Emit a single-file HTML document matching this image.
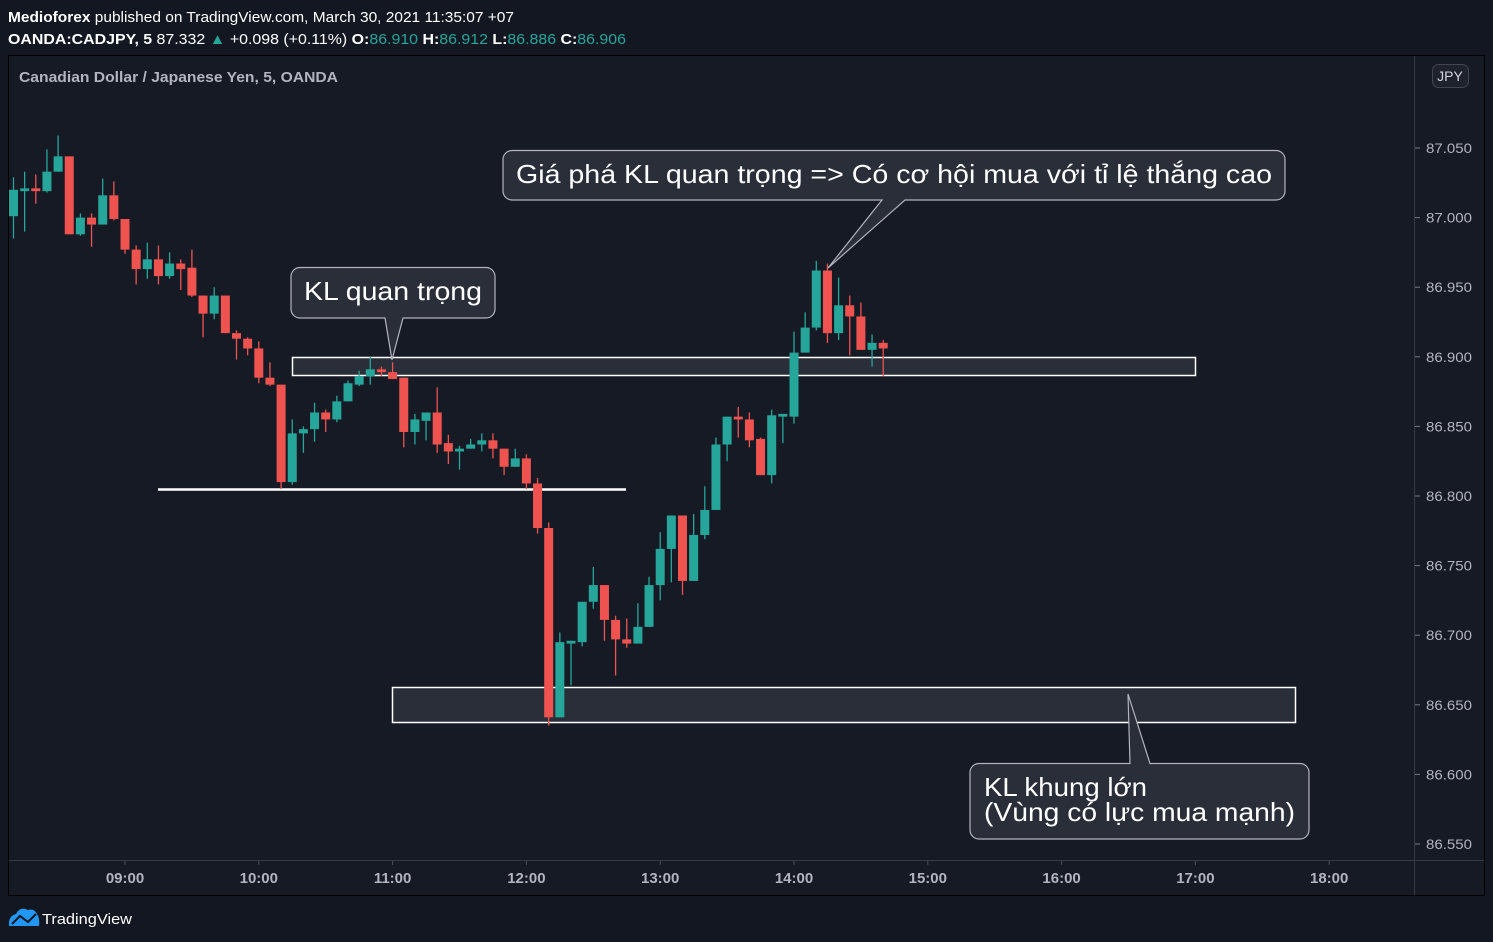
<!DOCTYPE html>
<html><head><meta charset="utf-8">
<style>
html,body{margin:0;padding:0;background:#131722;width:1493px;height:942px;overflow:hidden;font-family:"Liberation Sans",sans-serif;}
svg text{font-family:"Liberation Sans","DejaVu Sans",sans-serif;}
</style></head>
<body>
<svg id="chart" width="1493" height="942" viewBox="0 0 1493 942" xmlns="http://www.w3.org/2000/svg">
<rect x="0" y="0" width="1493" height="942" fill="#131722"/>
<text x="8" y="22" font-size="15" fill="#ffffff" textLength="506" lengthAdjust="spacingAndGlyphs"><tspan font-weight="bold">Medioforex</tspan> published on TradingView.com, March 30, 2021 11:35:07 +07</text>
<text x="8" y="44" font-size="15" fill="#ffffff" textLength="618" lengthAdjust="spacingAndGlyphs"><tspan font-weight="bold">OANDA:CADJPY, 5</tspan> 87.332 <tspan fill="#26a69a">▲</tspan> +0.098 (+0.11%) <tspan font-weight="bold">O:</tspan><tspan fill="#26a69a">86.910</tspan> <tspan font-weight="bold">H:</tspan><tspan fill="#26a69a">86.912</tspan> <tspan font-weight="bold">L:</tspan><tspan fill="#26a69a">86.886</tspan> <tspan font-weight="bold">C:</tspan><tspan fill="#26a69a">86.906</tspan></text>
<rect x="8.5" y="55.5" width="1476" height="840" fill="#161a25" stroke="#000"/>
<line x1="1414.5" y1="56" x2="1414.5" y2="895" stroke="#363a45"/>
<line x1="9" y1="860.5" x2="1484" y2="860.5" stroke="#363a45"/>
<text x="19" y="82" font-size="15" font-weight="bold" fill="#b2b5be" textLength="319" lengthAdjust="spacingAndGlyphs">Canadian Dollar / Japanese Yen, 5, OANDA</text>
<g id="yaxis"></g>
<g id="xaxis"></g>
<rect x="292.5" y="357.5" width="903" height="18" fill="#2a2e39" stroke="#fff" stroke-width="1.5"/>
<rect x="392.5" y="687.5" width="903" height="35" fill="#2a2e39" stroke="#fff" stroke-width="1.5"/>
<line x1="158" y1="489.5" x2="626" y2="489.5" stroke="#fff" stroke-width="2.5"/>
<g id="candles"></g>
<rect x="1432.5" y="64.5" width="36" height="23" rx="6" fill="#1e222d" stroke="#434651"/>
<text x="1450" y="81" font-size="14" fill="#d1d4dc" text-anchor="middle">JPY</text>
<g>
<path d="M300,267.5 H486 a9,9 0 0 1 9,9 V309 a9,9 0 0 1 -9,9 H403 L392,360 L385,318 H300 a9,9 0 0 1 -9,-9 V276.5 a9,9 0 0 1 9,-9 Z" fill="#2a2e39" stroke="#b2b5be" stroke-width="1.2"/>
<text x="304" y="300" font-size="26" fill="#fff" textLength="178" lengthAdjust="spacingAndGlyphs">KL quan trọng</text>
</g>
<g>
<path d="M512,150.5 H1276 a9,9 0 0 1 9,9 V191 a9,9 0 0 1 -9,9 H905 L828,268 L882,200 H512 a9,9 0 0 1 -9,-9 V159.5 a9,9 0 0 1 9,-9 Z" fill="#2a2e39" stroke="#b2b5be" stroke-width="1.2"/>
<text x="516" y="183" font-size="26" fill="#fff" textLength="756" lengthAdjust="spacingAndGlyphs">Giá phá KL quan trọng =&gt; Có cơ hội mua với tỉ lệ thắng cao</text>
</g>
<g>
<path d="M979,763.5 H1130 L1128,694 L1150,763.5 H1300 a9,9 0 0 1 9,9 V830 a9,9 0 0 1 -9,9 H979 a9,9 0 0 1 -9,-9 V772.5 a9,9 0 0 1 9,-9 Z" fill="#2a2e39" stroke="#b2b5be" stroke-width="1.2"/>
<text x="984" y="796" font-size="26" fill="#fff" textLength="163" lengthAdjust="spacingAndGlyphs">KL khung lớn</text>
<text x="984" y="821" font-size="26" fill="#fff" textLength="311" lengthAdjust="spacingAndGlyphs">(Vùng có lực mua mạnh)</text>
</g>
<g>
<path d="M9,926 Q8,916 16,914 Q20,906 28,910 Q34,908 37,914 Q40,918 39,926 Z" fill="#2196f3"/>
<polyline points="12,924 20,916 28,922 36,914" fill="none" stroke="#131722" stroke-width="2"/>
<text x="42" y="924" font-size="15" fill="#fff" textLength="90" lengthAdjust="spacingAndGlyphs">TradingView</text>
</g>
</svg>
<script>
const opens  =[87.001,87.019,87.021,87.019,87.033,87.044,86.988,87.000,86.995,87.016,86.999,86.977,86.963,86.970,86.958,86.967,86.964,86.944,86.931,86.944,86.917,86.913,86.906,86.885,86.880,86.810,86.845,86.848,86.860,86.855,86.868,86.880,86.886,86.891,86.889,86.885,86.846,86.854,86.860,86.838,86.832,86.834,86.837,86.840,86.834,86.821,86.827,86.809,86.777,86.641,86.694,86.695,86.724,86.736,86.711,86.697,86.694,86.706,86.736,86.762,86.786,86.739,86.772,86.790,86.837,86.857,86.855,86.841,86.815,86.857,86.857,86.903,86.921,86.962,86.917,86.937,86.929,86.905,86.910];
const highs  =[87.029,87.033,87.031,87.049,87.059,87.044,87.003,87.003,87.028,87.026,86.999,86.980,86.982,86.980,86.975,86.970,86.977,86.944,86.950,86.944,86.919,86.914,86.911,86.896,86.880,86.855,86.850,86.867,86.862,86.872,86.883,86.890,86.900,86.893,86.896,86.885,86.859,86.860,86.878,86.844,86.836,86.841,86.845,86.845,86.834,86.834,86.830,86.813,86.781,86.702,86.696,86.724,86.749,86.736,86.714,86.712,86.723,86.742,86.774,86.786,86.786,86.787,86.807,86.842,86.857,86.864,86.860,86.842,86.862,86.859,86.918,86.932,86.969,86.967,86.957,86.944,86.939,86.916,86.912];
const lows   =[86.985,86.990,87.010,87.018,87.033,86.988,86.987,86.979,86.995,86.998,86.974,86.952,86.956,86.952,86.956,86.948,86.943,86.914,86.927,86.917,86.898,86.901,86.881,86.879,86.805,86.808,86.831,86.839,86.846,86.853,86.868,86.879,86.880,86.886,86.884,86.835,86.837,86.840,86.831,86.823,86.819,86.834,86.832,86.827,86.815,86.821,86.805,86.773,86.635,86.641,86.664,86.692,86.719,86.696,86.671,86.691,86.694,86.706,86.725,86.738,86.729,86.739,86.769,86.790,86.825,86.842,86.835,86.815,86.809,86.838,86.852,86.903,86.919,86.910,86.912,86.901,86.905,86.893,86.886];
const closes =[87.020,87.021,87.019,87.033,87.044,86.988,87.000,86.995,87.016,86.999,86.977,86.963,86.970,86.958,86.967,86.963,86.944,86.931,86.944,86.917,86.913,86.906,86.885,86.880,86.810,86.845,86.848,86.860,86.855,86.868,86.881,86.886,86.891,86.889,86.884,86.846,86.855,86.860,86.837,86.832,86.834,86.837,86.840,86.834,86.821,86.827,86.809,86.777,86.641,86.695,86.696,86.724,86.736,86.711,86.697,86.694,86.706,86.736,86.762,86.786,86.739,86.772,86.790,86.837,86.857,86.855,86.840,86.815,86.858,86.859,86.903,86.921,86.962,86.917,86.937,86.929,86.905,86.910,86.906];
const priceTicks=[87.050,87.000,86.950,86.900,86.850,86.800,86.750,86.700,86.650,86.600,86.550];
const timeTicks=["09:00","10:00","11:00","12:00","13:00","14:00","15:00","16:00","17:00","18:00"];
const firstMinute=8*60+10;
const NS='http://www.w3.org/2000/svg';
function y(p){return 148+(87.05-p)*1392;}
function xMin(m){return 13.5+(m-firstMinute)/5*11.15;}
function xi(i){return xMin(firstMinute+i*5);}
function mk(tag,attrs,parent){const e=document.createElementNS(NS,tag);for(const k in attrs)e.setAttribute(k,attrs[k]);parent.appendChild(e);return e;}
const ya=document.getElementById('yaxis');
priceTicks.forEach(p=>{
  const t=mk('line',{x1:1415,x2:1420,y1:y(p),y2:y(p),stroke:'#787b86'},ya);
  
  
  const l=mk('text',{x:1426,y:y(p)+5,'font-size':14,fill:'#b2b5be',textLength:46,lengthAdjust:'spacingAndGlyphs'},ya);
  
  
  l.textContent=p.toFixed(3);
});
const xa=document.getElementById('xaxis');
timeTicks.forEach(s=>{
  const [h,m]=s.split(':').map(Number);const x=xMin(h*60+m);
  const t=mk('line',{x1:x,x2:x,y1:861,y2:865,stroke:'#4a4e59'},xa);
  
  
  const l=mk('text',{x:x,y:883,'font-size':15,'font-weight':'bold',fill:'#b2b5be','text-anchor':'middle'},xa);
  
  
  l.textContent=s;
});
const cg=document.getElementById('candles');
opens.forEach((o,i)=>{
  const c=closes[i],up=c>=o,col=up?'#26a69a':'#ef5350',x=xi(i);
  const g=mk('g',{},cg);
  
  
  mk('line',{x1:x,x2:x,y1:y(highs[i]),y2:y(lows[i]),stroke:col,'stroke-width':1.3},g);
  const top=y(Math.max(o,c)),bot=y(Math.min(o,c));
  mk('rect',{x:x-4.5,y:top,width:9,height:Math.max(1.5,bot-top),fill:col},g);
});
</script>
</body></html>
